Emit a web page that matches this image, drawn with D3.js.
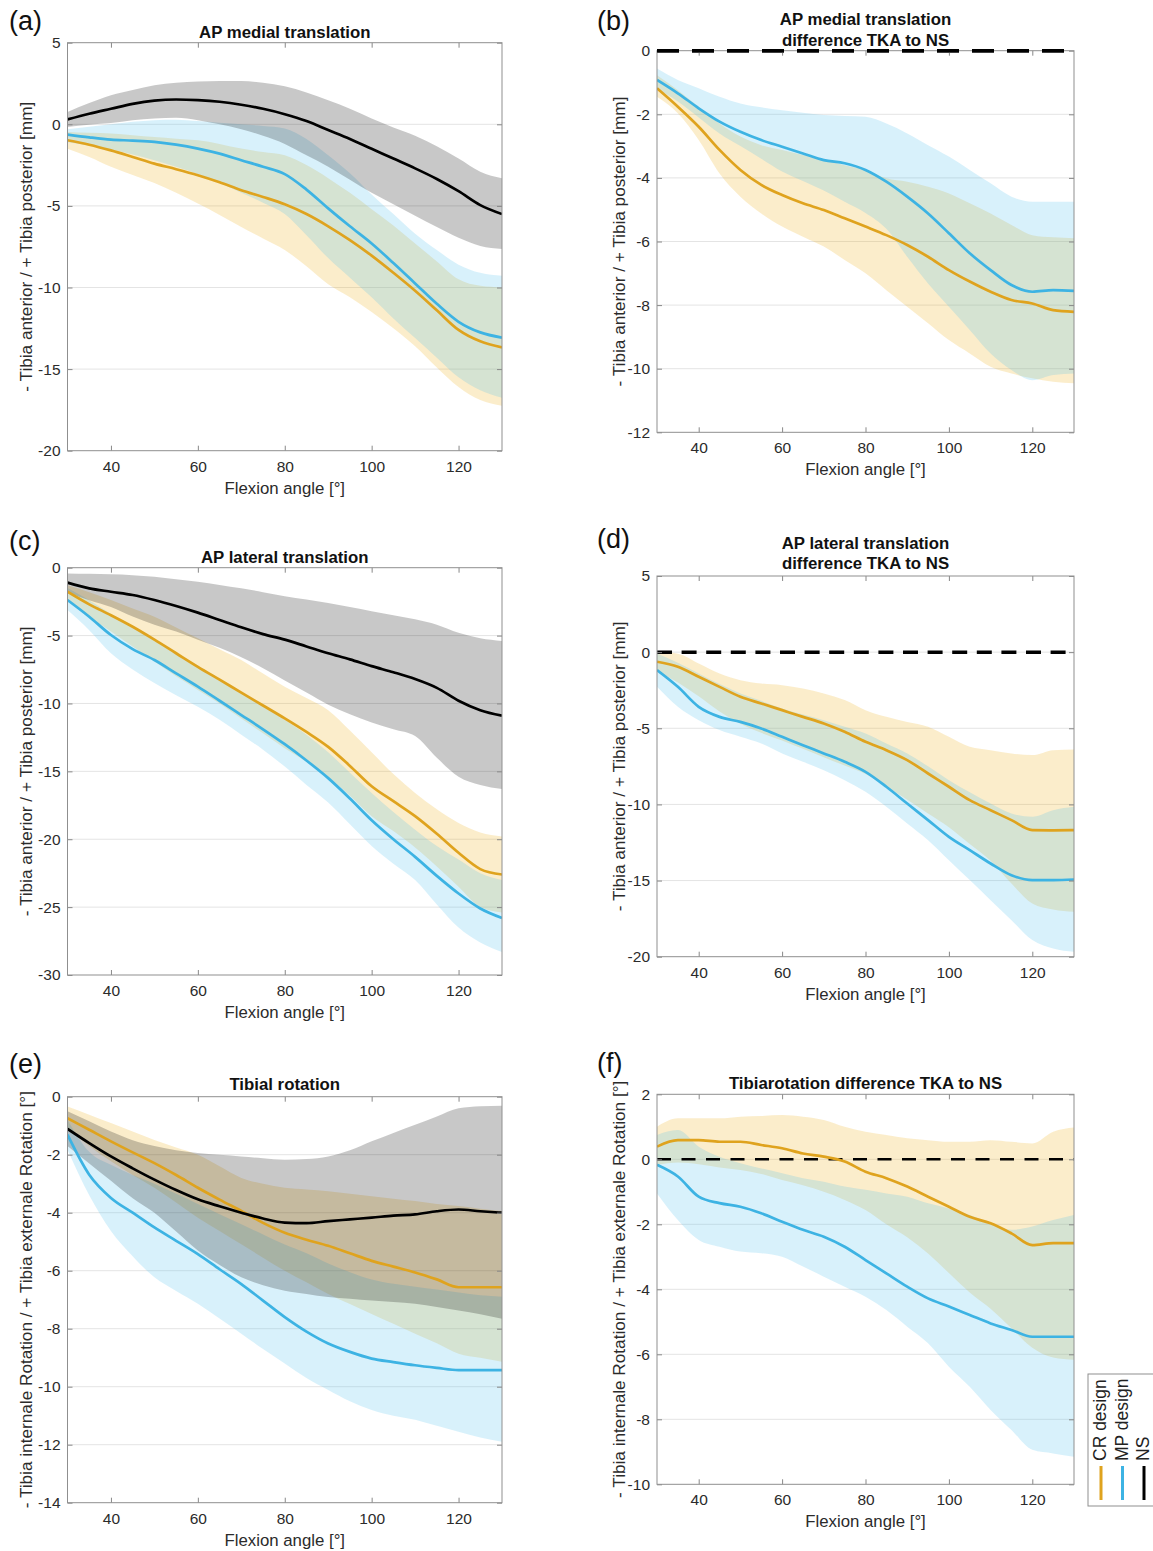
<!DOCTYPE html>
<html>
<head>
<meta charset="utf-8">
<script src="https://cdn.jsdelivr.net/npm/d3@7/dist/d3.min.js"></script>
<style>
  body { margin: 0; background: #fff; }
  svg { font-family: "Liberation Sans", Arial, sans-serif; }
</style>
</head>
<body>
<div id="chart"></div>
<script>
// flexion angles (x) shared by every panel
const angles = [30, 35, 40, 45, 50, 55, 60, 65, 70, 75, 80, 85, 90, 95, 100, 105, 110, 115, 120, 125, 130];
const xTicks = [40, 60, 80, 100, 120];

// (a) AP medial translation
const aNsMean = [0.3, 0.65, 0.95, 1.25, 1.45, 1.52, 1.48, 1.38, 1.2, 0.95, 0.62, 0.2, -0.35, -0.9, -1.5, -2.1, -2.7, -3.35, -4.1, -4.95, -5.5];
const aNsHi = [0.76, 1.3, 1.78, 2.1, 2.39, 2.55, 2.63, 2.66, 2.65, 2.55, 2.33, 1.95, 1.47, 0.95, 0.35, -0.2, -0.7, -1.35, -2.1, -2.9, -3.3];
const aNsLo = [-0.16, -0.02, 0.08, 0.25, 0.35, 0.4, 0.25, 0.0, -0.3, -0.7, -1.2, -1.9, -2.6, -3.4, -4.2, -4.9, -5.6, -6.3, -6.95, -7.45, -7.64];
const aMpMean = [-0.63, -0.8, -0.94, -1.0, -1.08, -1.25, -1.49, -1.8, -2.2, -2.6, -3.05, -4.0, -5.15, -6.25, -7.3, -8.5, -9.75, -11.0, -12.1, -12.75, -13.07];
const aMpHi = [-0.3, -0.15, 0.0, 0.15, 0.25, 0.28, 0.2, 0.1, 0.0, -0.1, -0.25, -0.9, -1.9, -3.0, -4.3, -5.5, -6.7, -7.7, -8.6, -9.1, -9.28];
const aMpLo = [-1.1, -1.3, -1.55, -1.85, -2.2, -2.6, -3.05, -3.6, -4.2, -4.8, -5.5, -6.8, -8.2, -9.4, -10.6, -11.9, -13.1, -14.3, -15.5, -16.3, -16.76];
const aCrMean = [-0.98, -1.25, -1.6, -2.0, -2.41, -2.75, -3.12, -3.55, -4.04, -4.45, -4.9, -5.5, -6.25, -7.1, -8.05, -9.1, -10.2, -11.4, -12.6, -13.3, -13.67];
const aCrHi = [-0.47, -0.52, -0.57, -0.67, -0.78, -0.88, -0.98, -1.2, -1.49, -1.7, -1.9, -2.5, -3.3, -4.2, -5.2, -6.2, -7.3, -8.4, -9.5, -9.9, -10.0];
const aCrLo = [-1.5, -2.0, -2.6, -3.1, -3.6, -4.2, -4.85, -5.55, -6.3, -7.0, -7.7, -8.7, -9.8, -10.6, -11.5, -12.5, -13.6, -14.9, -16.1, -16.9, -17.25];

// (b) AP medial translation difference TKA to NS
const bMpMean = [-0.92, -1.34, -1.81, -2.23, -2.55, -2.81, -3.02, -3.23, -3.44, -3.54, -3.75, -4.12, -4.59, -5.12, -5.74, -6.37, -6.9, -7.37, -7.58, -7.53, -7.55];
const bMpHi = [-0.56, -0.92, -1.18, -1.45, -1.66, -1.78, -1.87, -1.95, -2.02, -2.05, -2.08, -2.29, -2.6, -2.97, -3.33, -3.75, -4.17, -4.59, -4.75, -4.75, -4.75];
const bMpLo = [-1.2, -1.6, -2.1, -2.6, -3.0, -3.4, -3.8, -4.1, -4.4, -4.75, -5.1, -5.6, -6.48, -7.32, -8.05, -8.78, -9.52, -10.04, -10.36, -10.2, -10.15];
const bCrMean = [-1.18, -1.76, -2.39, -3.12, -3.75, -4.22, -4.54, -4.8, -5.01, -5.27, -5.53, -5.8, -6.11, -6.48, -6.9, -7.26, -7.58, -7.84, -7.95, -8.16, -8.21];
const bCrHi = [-0.77, -1.24, -1.76, -2.29, -2.7, -2.97, -3.12, -3.28, -3.44, -3.6, -3.75, -4.01, -4.12, -4.28, -4.49, -4.8, -5.12, -5.48, -5.8, -5.87, -5.9];
const bCrLo = [-1.45, -1.97, -2.81, -3.86, -4.59, -5.12, -5.53, -5.85, -6.16, -6.58, -7.0, -7.53, -8.05, -8.57, -9.1, -9.52, -9.94, -10.15, -10.3, -10.41, -10.46];

// (c) AP lateral translation
const cNsMean = [-1.1, -1.52, -1.77, -2.01, -2.38, -2.82, -3.31, -3.85, -4.39, -4.89, -5.3, -5.8, -6.3, -6.75, -7.25, -7.7, -8.2, -8.85, -9.8, -10.5, -10.9];
const cNsHi = [-0.42, -0.45, -0.49, -0.55, -0.66, -0.85, -1.03, -1.27, -1.52, -1.8, -2.1, -2.35, -2.6, -2.9, -3.2, -3.5, -3.8, -4.2, -4.8, -5.2, -5.4];
const cNsLo = [-1.8, -2.4, -2.9, -3.6, -4.2, -4.7, -5.3, -5.9, -6.6, -7.4, -8.3, -9.2, -10.1, -10.8, -11.4, -11.9, -12.4, -14.0, -15.4, -16.0, -16.3];
const cMpMean = [-2.38, -3.61, -4.96, -6.0, -6.8, -7.78, -8.76, -9.8, -10.85, -11.9, -13.0, -14.2, -15.5, -17.0, -18.6, -20.0, -21.3, -22.7, -24.0, -25.1, -25.8];
const cMpHi = [-1.5, -2.4, -3.4, -4.4, -5.3, -6.3, -7.2, -8.2, -9.2, -10.2, -11.2, -12.3, -13.6, -15.1, -16.6, -18.0, -19.3, -20.5, -21.5, -22.5, -23.0];
const cMpLo = [-3.12, -4.6, -6.3, -7.5, -8.5, -9.4, -10.24, -11.2, -12.3, -13.4, -14.65, -16.0, -17.3, -18.9, -20.5, -21.8, -23.0, -24.8, -26.5, -27.6, -28.3];
const cCrMean = [-1.77, -2.7, -3.5, -4.35, -5.3, -6.3, -7.3, -8.25, -9.2, -10.15, -11.1, -12.1, -13.2, -14.6, -16.1, -17.2, -18.3, -19.6, -21.0, -22.2, -22.6];
const cCrHi = [-1.3, -1.8, -2.38, -3.0, -3.61, -4.4, -5.2, -6.0, -6.8, -7.8, -8.76, -9.6, -10.5, -12.0, -13.6, -15.2, -16.6, -17.8, -18.8, -19.5, -19.8];
const cCrLo = [-2.3, -3.6, -4.7, -5.8, -6.9, -8.0, -9.0, -10.0, -11.1, -12.2, -13.3, -14.3, -15.4, -16.8, -18.3, -19.4, -20.6, -22.0, -23.5, -25.0, -25.4];

// (d) AP lateral translation difference TKA to NS
const dMpMean = [-1.18, -2.28, -3.59, -4.25, -4.58, -5.01, -5.56, -6.11, -6.65, -7.2, -7.86, -8.84, -9.94, -11.03, -12.13, -13.0, -13.88, -14.65, -14.97, -14.97, -14.93];
const dMpHi = [-0.09, -0.7, -1.4, -2.1, -2.71, -3.2, -3.7, -4.1, -4.47, -4.9, -5.34, -6.0, -6.65, -7.5, -8.41, -9.2, -9.94, -10.6, -10.81, -10.38, -10.16];
const dMpLo = [-2.28, -3.59, -4.47, -5.12, -5.56, -6.0, -6.65, -7.2, -7.75, -8.41, -9.17, -10.16, -11.25, -12.35, -13.66, -14.97, -16.29, -17.6, -18.91, -19.46, -19.68];
const dCrMean = [-0.63, -0.96, -1.62, -2.28, -2.93, -3.37, -3.81, -4.25, -4.68, -5.23, -5.89, -6.44, -7.09, -7.97, -8.84, -9.72, -10.38, -11.03, -11.69, -11.7, -11.69];
const dCrHi = [0.02, -0.1, -0.74, -1.4, -1.84, -2.06, -2.17, -2.39, -2.71, -3.15, -3.81, -4.25, -4.58, -4.9, -5.56, -6.22, -6.44, -6.65, -6.76, -6.44, -6.39];
const dCrLo = [-1.2, -2.0, -2.9, -3.9, -4.7, -5.3, -5.8, -6.35, -6.9, -7.45, -8.0, -8.8, -9.7, -10.6, -11.5, -12.6, -13.7, -15.2, -16.5, -16.9, -17.05];

// (e) Tibial rotation
const eNsMean = [-1.11, -1.6, -2.06, -2.47, -2.86, -3.22, -3.54, -3.78, -4.0, -4.2, -4.34, -4.36, -4.29, -4.23, -4.17, -4.1, -4.06, -3.95, -3.89, -3.95, -4.0];
const eNsHi = [-0.5, -0.85, -1.2, -1.5, -1.7, -1.85, -1.94, -2.0, -2.06, -2.12, -2.17, -2.15, -2.06, -1.85, -1.54, -1.25, -0.97, -0.68, -0.4, -0.33, -0.31];
const eNsLo = [-1.7, -2.3, -2.9, -3.5, -4.0, -4.65, -5.3, -5.8, -6.23, -6.5, -6.69, -6.8, -6.91, -6.97, -7.03, -7.08, -7.14, -7.25, -7.37, -7.5, -7.66];
const eMpMean = [-1.31, -2.69, -3.49, -4.0, -4.51, -4.97, -5.43, -5.95, -6.46, -7.03, -7.6, -8.1, -8.51, -8.8, -9.03, -9.15, -9.26, -9.35, -9.43, -9.43, -9.43];
const eMpHi = [-0.8, -1.9, -2.35, -2.7, -3.0, -3.35, -3.7, -4.05, -4.4, -4.75, -5.1, -5.4, -5.75, -6.05, -6.3, -6.45, -6.55, -6.65, -6.75, -6.85, -6.9];
const eMpLo = [-1.83, -3.4, -4.63, -5.5, -6.23, -6.7, -7.14, -7.65, -8.17, -8.7, -9.2, -9.7, -10.11, -10.5, -10.8, -11.0, -11.14, -11.35, -11.55, -11.75, -11.9];
const eCrMean = [-0.74, -1.14, -1.54, -1.92, -2.29, -2.7, -3.14, -3.55, -3.94, -4.35, -4.69, -4.93, -5.14, -5.4, -5.66, -5.86, -6.06, -6.3, -6.57, -6.57, -6.57];
const eCrHi = [-0.34, -0.62, -0.91, -1.2, -1.49, -1.75, -2.0, -2.4, -2.8, -3.0, -3.14, -3.2, -3.26, -3.35, -3.43, -3.52, -3.6, -3.7, -3.77, -3.86, -3.94];
const eCrLo = [-1.1, -1.7, -2.23, -2.7, -3.14, -3.65, -4.17, -4.63, -5.09, -5.55, -6.0, -6.4, -6.8, -7.15, -7.49, -7.83, -8.17, -8.5, -8.86, -9.0, -9.14];

// (f) Tibiarotation difference TKA to NS
const fMpMean = [-0.17, -0.53, -1.15, -1.35, -1.46, -1.66, -1.92, -2.17, -2.38, -2.69, -3.1, -3.51, -3.92, -4.28, -4.53, -4.79, -5.05, -5.25, -5.46, -5.46, -5.46];
const fMpHi = [0.75, 0.9, 0.39, 0.08, -0.12, -0.28, -0.43, -0.58, -0.69, -0.84, -0.94, -1.05, -1.15, -1.35, -1.51, -1.71, -1.97, -2.17, -2.07, -1.87, -1.71];
const fMpLo = [-1.05, -1.87, -2.48, -2.69, -2.84, -2.89, -3.0, -3.3, -3.61, -3.92, -4.23, -4.64, -5.15, -5.66, -6.38, -7.0, -7.71, -8.33, -8.94, -9.05, -9.15];
const fCrMean = [0.39, 0.59, 0.59, 0.54, 0.54, 0.44, 0.34, 0.18, 0.08, -0.07, -0.38, -0.58, -0.84, -1.15, -1.46, -1.77, -1.97, -2.28, -2.64, -2.58, -2.58];
const fCrHi = [1.0, 1.26, 1.26, 1.26, 1.31, 1.33, 1.36, 1.31, 1.21, 1.0, 0.85, 0.75, 0.65, 0.59, 0.54, 0.54, 0.59, 0.54, 0.49, 0.85, 0.98];
const fCrLo = [-0.17, -0.1, -0.15, -0.25, -0.33, -0.45, -0.64, -0.8, -1.0, -1.25, -1.56, -2.0, -2.4, -2.9, -3.5, -4.1, -4.6, -5.2, -5.8, -6.1, -6.17];

const legendNames = ["CR design", "MP design", "NS"];

const colCR = "#DFA31E", colMP = "#3DB3E3", colNS = "#000000";
// band colours are drawn with transparency, CR first, MP over it, NS on top
const bandCR = { fill: "#EDB120", op: 0.23 };
const bandMP = { fill: "#4DBEEE", op: 0.22 };
const bandNS = { fill: "#000000", op: 0.215 };

const svg = d3.select("#chart").append("svg")
  .attr("width", 1153)
  .attr("height", 1551);

let clipId = 0;

function drawPanel(p) {
  const x = d3.scaleLinear().domain([30, 130]).range([p.left, p.right]);
  const y = d3.scaleLinear().domain([p.yTicks[0], p.yTicks[p.yTicks.length - 1]]).range([p.bottom, p.top]);
  const g = svg.append("g");
  const midX = (p.left + p.right) / 2;

  clipId++;
  svg.append("clipPath").attr("id", "clip" + clipId)
    .append("rect")
    .attr("x", p.left).attr("y", p.top)
    .attr("width", p.right - p.left).attr("height", p.bottom - p.top);

  // horizontal grid
  g.selectAll(".grid")
    .data(p.yTicks.slice(1, -1))
    .enter()
    .append("line")
    .attr("x1", p.left).attr("x2", p.right)
    .attr("y1", d => y(d)).attr("y2", d => y(d))
    .attr("stroke", "#e4e4e4")
    .attr("stroke-width", 1);

  const plot = g.append("g").attr("clip-path", `url(#clip${clipId})`);

  const area = d3.area()
    .x(d => x(d.a))
    .y0(d => y(d.lo))
    .y1(d => y(d.hi))
    .curve(d3.curveMonotoneX);

  const line = d3.line()
    .x(d => x(d.a))
    .y(d => y(d.m))
    .curve(d3.curveMonotoneX);

  // bands
  p.series.forEach(s => {
    const rows = angles.map((a, i) => ({ a: a, lo: s.lo[i], hi: s.hi[i] }));
    plot.append("path")
      .datum(rows)
      .attr("d", area)
      .attr("fill", s.band.fill)
      .attr("fill-opacity", s.band.op);
  });

  // zero reference (NS)
  if (p.dash) {
    plot.append("line")
      .attr("x1", x(30)).attr("x2", x(130))
      .attr("y1", y(0)).attr("y2", y(0))
      .attr("stroke", "#000")
      .attr("stroke-width", p.dash.w)
      .attr("stroke-dasharray", p.dash.pattern);
  }

  // mean lines
  p.series.forEach(s => {
    const rows = angles.map((a, i) => ({ a: a, m: s.mean[i] }));
    plot.append("path")
      .datum(rows)
      .attr("d", line)
      .attr("fill", "none")
      .attr("stroke", s.color)
      .attr("stroke-width", 2.7);
  });

  // axes with inward ticks on all four sides
  const fmt = d => String(d);
  const ax = [
    g.append("g").attr("transform", `translate(0,${p.bottom})`)
      .call(d3.axisBottom(x).tickValues(xTicks).tickSize(-5).tickPadding(10).tickFormat(fmt)),
    g.append("g").attr("transform", `translate(0,${p.top})`)
      .call(d3.axisTop(x).tickValues(xTicks).tickSize(-5).tickFormat("")),
    g.append("g").attr("transform", `translate(${p.left},0)`)
      .call(d3.axisLeft(y).tickValues(p.yTicks).tickSize(-5).tickPadding(7).tickFormat(fmt)),
    g.append("g").attr("transform", `translate(${p.right},0)`)
      .call(d3.axisRight(y).tickValues(p.yTicks).tickSize(-5).tickFormat(""))
  ];
  ax.forEach(a => {
    a.select(".domain").remove();
    a.selectAll(".tick line").attr("stroke", "#888");
    a.selectAll(".tick text")
      .attr("font-size", 15.5)
      .attr("font-family", "Liberation Sans, Arial, sans-serif")
      .attr("fill", "#2b2b2b");
  });

  g.append("rect")
    .attr("x", p.left).attr("y", p.top)
    .attr("width", p.right - p.left).attr("height", p.bottom - p.top)
    .attr("fill", "none")
    .attr("stroke", "#8f8f8f")
    .attr("stroke-width", 1);

  // when zero is the top edge the dashed line is drawn over the frame
  if (p.dash && p.yTicks[p.yTicks.length - 1] === 0) {
    g.append("line")
      .attr("x1", x(30)).attr("x2", x(130))
      .attr("y1", y(0)).attr("y2", y(0))
      .attr("stroke", "#000")
      .attr("stroke-width", p.dash.w)
      .attr("stroke-dasharray", p.dash.pattern);
  }

  // titles
  p.title.forEach((t, i) => {
    g.append("text")
      .attr("x", midX)
      .attr("y", p.titleY - (p.title.length - 1 - i) * 20.5)
      .attr("text-anchor", "middle")
      .attr("font-size", 16.8)
      .attr("font-weight", "bold")
      .attr("fill", "#111")
      .text(t);
  });

  g.append("text")
    .attr("x", midX)
    .attr("y", p.bottom + 43)
    .attr("text-anchor", "middle")
    .attr("font-size", 16.8)
    .attr("fill", "#2b2b2b")
    .text(p.xLabel);

  g.append("text")
    .attr("transform", `translate(${p.yLabelX},${(p.top + p.bottom) / 2}) rotate(-90)`)
    .attr("text-anchor", "middle")
    .attr("font-size", 17.2)
    .attr("fill", "#2b2b2b")
    .text(p.yLabel);

  g.append("text")
    .attr("x", p.tagX)
    .attr("y", p.tagY)
    .attr("font-size", 27)
    .attr("fill", "#111")
    .text(p.tag);
}

const L = { left: 67.5, right: 502, yLabelX: 32, tagX: 9 };
const R = { left: 657, right: 1074, yLabelX: 625, tagX: 597 };

const yLabTrans = "- Tibia anterior / + Tibia posterior [mm]";
const yLabTrans2 = "- Tibia anterior / + Tibia posterior  [mm]";
const yLabRot = "- Tibia internale Rotation / + Tibia externale Rotation [°]";

drawPanel(Object.assign({}, L, {
  top: 42.7, bottom: 450.7, titleY: 38, tagY: 30, tag: "(a)",
  yTicks: [-20, -15, -10, -5, 0, 5],
  title: ["AP medial translation"],
  xLabel: "Flexion angle [°]", yLabel: yLabTrans,
  series: [
    { mean: aCrMean, lo: aCrLo, hi: aCrHi, color: colCR, band: bandCR },
    { mean: aMpMean, lo: aMpLo, hi: aMpHi, color: colMP, band: bandMP },
    { mean: aNsMean, lo: aNsLo, hi: aNsHi, color: colNS, band: bandNS }
  ]
}));

drawPanel(Object.assign({}, R, {
  top: 50.7, bottom: 432.3, titleY: 45.5, tagY: 30, tag: "(b)",
  yTicks: [-12, -10, -8, -6, -4, -2, 0],
  title: ["AP medial translation", "difference TKA to NS"],
  xLabel: "Flexion angle [°]", yLabel: yLabTrans,
  dash: { w: 3.5, pattern: "22,13" },
  series: [
    { mean: bCrMean, lo: bCrLo, hi: bCrHi, color: colCR, band: bandCR },
    { mean: bMpMean, lo: bMpLo, hi: bMpHi, color: colMP, band: bandMP }
  ]
}));

drawPanel(Object.assign({}, L, {
  top: 567.7, bottom: 975, titleY: 562.7, tagY: 550, tag: "(c)",
  yTicks: [-30, -25, -20, -15, -10, -5, 0],
  title: ["AP lateral translation"],
  xLabel: "Flexion angle [°]", yLabel: yLabTrans2,
  series: [
    { mean: cCrMean, lo: cCrLo, hi: cCrHi, color: colCR, band: bandCR },
    { mean: cMpMean, lo: cMpLo, hi: cMpHi, color: colMP, band: bandMP },
    { mean: cNsMean, lo: cNsLo, hi: cNsHi, color: colNS, band: bandNS }
  ]
}));

drawPanel(Object.assign({}, R, {
  top: 576, bottom: 956.7, titleY: 569.3, tagY: 548, tag: "(d)",
  yTicks: [-20, -15, -10, -5, 0, 5],
  title: ["AP lateral translation", "difference TKA to NS"],
  xLabel: "Flexion angle [°]", yLabel: yLabTrans2,
  dash: { w: 3.5, pattern: "15,9.6" },
  series: [
    { mean: dCrMean, lo: dCrLo, hi: dCrHi, color: colCR, band: bandCR },
    { mean: dMpMean, lo: dMpLo, hi: dMpHi, color: colMP, band: bandMP }
  ]
}));

drawPanel(Object.assign({}, L, {
  top: 1096.7, bottom: 1502.7, titleY: 1090, tagY: 1073, tag: "(e)",
  yTicks: [-14, -12, -10, -8, -6, -4, -2, 0],
  title: ["Tibial rotation"],
  xLabel: "Flexion angle  [°]", yLabel: yLabRot,
  series: [
    { mean: eCrMean, lo: eCrLo, hi: eCrHi, color: colCR, band: bandCR },
    { mean: eMpMean, lo: eMpLo, hi: eMpHi, color: colMP, band: bandMP },
    { mean: eNsMean, lo: eNsLo, hi: eNsHi, color: colNS, band: bandNS }
  ]
}));

drawPanel(Object.assign({}, R, {
  top: 1094.3, bottom: 1484.3, titleY: 1089, tagY: 1072, tag: "(f)",
  yTicks: [-10, -8, -6, -4, -2, 0, 2],
  title: ["Tibiarotation difference TKA to NS"],
  xLabel: "Flexion angle [°]", yLabel: yLabRot,
  dash: { w: 2.6, pattern: "14,10.5" },
  series: [
    { mean: fCrMean, lo: fCrLo, hi: fCrHi, color: colCR, band: bandCR },
    { mean: fMpMean, lo: fMpLo, hi: fMpHi, color: colMP, band: bandMP }
  ]
}));

// legend (vertical text, box runs off the right page edge like the original)
const legend = svg.append("g");
legend.append("rect")
  .attr("x", 1088).attr("y", 1374)
  .attr("width", 90).attr("height", 132)
  .attr("fill", "#fff")
  .attr("stroke", "#8f8f8f");

const legendCols = [colCR, colMP, colNS];
legendNames.forEach((name, i) => {
  const cx = 1101 + i * 21.5;
  legend.append("line")
    .attr("x1", cx).attr("x2", cx)
    .attr("y1", 1466).attr("y2", 1500)
    .attr("stroke", legendCols[i])
    .attr("stroke-width", 3);
  legend.append("text")
    .attr("transform", `translate(${cx + 5},1461) rotate(-90)`)
    .attr("font-size", 17.5)
    .attr("fill", "#222")
    .text(name);
});
</script>
</body>
</html>
